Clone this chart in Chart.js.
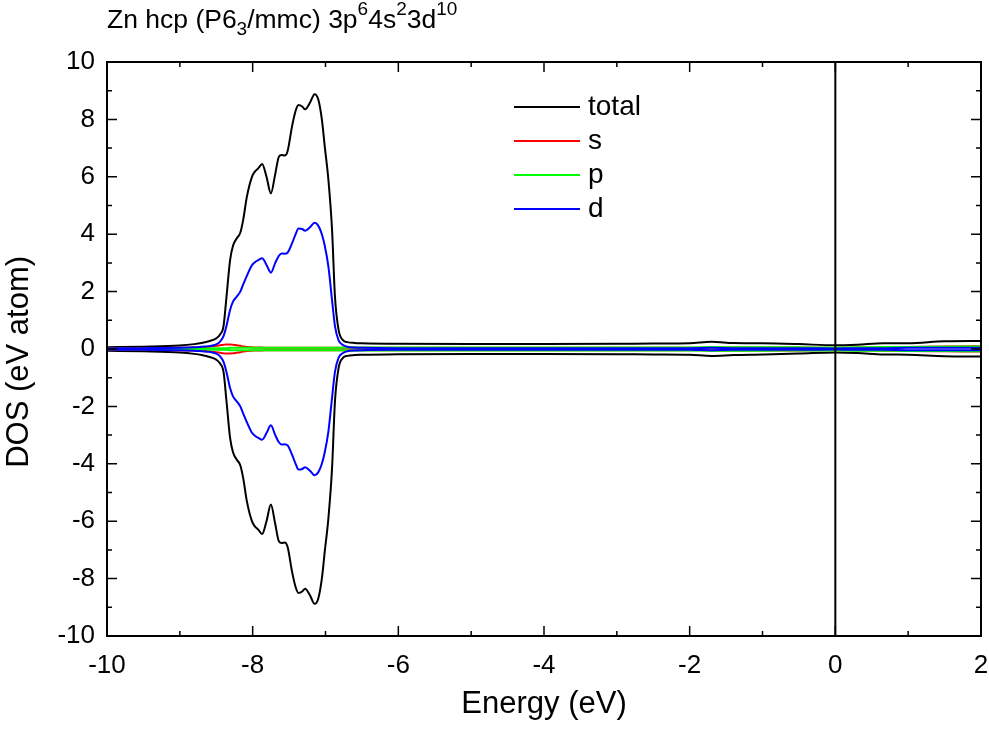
<!DOCTYPE html>
<html>
<head>
<meta charset="utf-8">
<script src="https://cdn.jsdelivr.net/npm/chart.js@4.4.1/dist/chart.umd.min.js"></script>
<style>
html, body { margin: 0; padding: 0; background: #fff; }
#wrap { width: 989px; height: 729px; }
</style>
</head>
<body>
<div id="wrap"><canvas id="dos"></canvas></div>
<script>
// energy grid (eV) shared by all curves
const energy = [
  -10, -9.5, -9, -8.8, -8.7, -8.6, -8.5, -8.45, -8.4, -8.36,
  -8.31, -8.27, -8.22, -8.17, -8.13, -8.08, -8.01, -7.97, -7.92, -7.87,
  -7.81, -7.75, -7.69, -7.64, -7.6, -7.56, -7.52, -7.46, -7.41, -7.37,
  -7.32, -7.28, -7.21, -7.15, -7.1, -7.05, -7.01, -6.96, -6.91, -6.87,
  -6.82, -6.76, -6.7, -6.6, -6.5, -6, -5, -4, -3, -2.5,
  -2, -1.7, -1.4, -1, -0.5, 0, 0.3, 0.66, 1, 1.5,
  2
];

// spin up
const totalUp = [
  0.06, 0.08, 0.12, 0.17, 0.21, 0.27, 0.37, 0.5, 0.8, 1.8,
  3.1, 3.6, 3.85, 4.05, 4.5, 5.3, 6.0, 6.18, 6.3, 6.45,
  6.0, 5.42, 6.1, 6.7, 6.76, 6.74, 6.9, 7.75, 8.3, 8.5,
  8.45, 8.35, 8.6, 8.88, 8.7, 8.0, 7.05, 5.89, 4.15, 1.82,
  0.66, 0.31, 0.24, 0.21, 0.2, 0.18, 0.17, 0.17, 0.18, 0.19,
  0.2, 0.25, 0.21, 0.2, 0.17, 0.13, 0.15, 0.2, 0.2, 0.27,
  0.28
];
const sUp = [
  0.03, 0.03, 0.04, 0.05, 0.06, 0.08, 0.11, 0.13, 0.15, 0.16,
  0.16, 0.15, 0.13, 0.11, 0.09, 0.07, 0.06, 0.05, 0.05, 0.05,
  0.04, 0.04, 0.04, 0.04, 0.04, 0.04, 0.04, 0.04, 0.04, 0.04,
  0.04, 0.04, 0.04, 0.04, 0.04, 0.04, 0.04, 0.04, 0.04, 0.04,
  0.04, 0.04, 0.04, 0.04, 0.04, 0.04, 0.04, 0.04, 0.04, 0.04,
  0.04, 0.05, 0.05, 0.05, 0.05, 0.04, 0.05, 0.06, 0.07, 0.09,
  0.1
];
const pUp = [
  0.01, 0.01, 0.02, 0.02, 0.02, 0.02, 0.03, 0.03, 0.03, 0.03,
  0.04, 0.04, 0.04, 0.04, 0.04, 0.04, 0.04, 0.04, 0.04, 0.04,
  0.04, 0.04, 0.04, 0.04, 0.04, 0.04, 0.04, 0.04, 0.04, 0.04,
  0.04, 0.04, 0.04, 0.04, 0.04, 0.04, 0.04, 0.04, 0.04, 0.04,
  0.04, 0.05, 0.05, 0.05, 0.05, 0.05, 0.05, 0.05, 0.05, 0.05,
  0.05, 0.07, 0.06, 0.06, 0.06, 0.05, 0.06, 0.07, 0.07, 0.08,
  0.09
];
const dUp = [
  0.02, 0.03, 0.04, 0.06, 0.08, 0.1, 0.16, 0.25, 0.45, 0.8,
  1.36, 1.65, 1.82, 2.0, 2.25, 2.55, 2.92, 3.02, 3.1, 3.16,
  2.93, 2.66, 3.0, 3.25, 3.33, 3.32, 3.36, 3.68, 4.0, 4.2,
  4.18, 4.12, 4.25, 4.4, 4.3, 4.0, 3.6, 2.87, 1.7, 0.8,
  0.3, 0.14, 0.08, 0.05, 0.04, 0.03, 0.03, 0.03, 0.03, 0.03,
  0.03, 0.04, 0.03, 0.03, 0.03, 0.02, 0.03, 0.03, 0.04, 0.04,
  0.04
];

// spin down
const totalDown = [
  -0.06, -0.08, -0.12, -0.17, -0.21, -0.27, -0.37, -0.5, -0.8, -1.8,
  -3.1, -3.6, -3.85, -4.05, -4.5, -5.3, -6.0, -6.18, -6.3, -6.45,
  -6.0, -5.42, -6.1, -6.7, -6.76, -6.74, -6.9, -7.75, -8.3, -8.5,
  -8.45, -8.35, -8.6, -8.88, -8.7, -8.0, -7.05, -5.89, -4.15, -1.82,
  -0.66, -0.31, -0.24, -0.21, -0.2, -0.18, -0.17, -0.17, -0.18, -0.19,
  -0.2, -0.24, -0.21, -0.19, -0.16, -0.12, -0.14, -0.19, -0.2, -0.25,
  -0.26
];
const sDown = [
  -0.03, -0.03, -0.04, -0.05, -0.06, -0.08, -0.11, -0.13, -0.15, -0.16,
  -0.16, -0.15, -0.13, -0.11, -0.09, -0.07, -0.06, -0.05, -0.05, -0.05,
  -0.04, -0.04, -0.04, -0.04, -0.04, -0.04, -0.04, -0.04, -0.04, -0.04,
  -0.04, -0.04, -0.04, -0.04, -0.04, -0.04, -0.04, -0.04, -0.04, -0.04,
  -0.04, -0.04, -0.04, -0.04, -0.04, -0.04, -0.04, -0.04, -0.04, -0.04,
  -0.04, -0.05, -0.05, -0.05, -0.05, -0.04, -0.05, -0.06, -0.07, -0.08,
  -0.09
];
const pDown = [
  -0.01, -0.01, -0.02, -0.02, -0.02, -0.02, -0.03, -0.03, -0.03, -0.03,
  -0.04, -0.04, -0.04, -0.04, -0.04, -0.04, -0.04, -0.04, -0.04, -0.04,
  -0.04, -0.04, -0.04, -0.04, -0.04, -0.04, -0.04, -0.04, -0.04, -0.04,
  -0.04, -0.04, -0.04, -0.04, -0.04, -0.04, -0.04, -0.04, -0.04, -0.04,
  -0.04, -0.05, -0.05, -0.05, -0.05, -0.05, -0.05, -0.05, -0.05, -0.05,
  -0.05, -0.06, -0.06, -0.06, -0.05, -0.05, -0.06, -0.06, -0.07, -0.07,
  -0.08
];
const dDown = [
  -0.02, -0.03, -0.04, -0.06, -0.08, -0.1, -0.16, -0.25, -0.45, -0.8,
  -1.36, -1.65, -1.82, -2.0, -2.25, -2.55, -2.92, -3.02, -3.1, -3.16,
  -2.93, -2.66, -3.0, -3.25, -3.33, -3.32, -3.36, -3.68, -4.0, -4.2,
  -4.18, -4.12, -4.25, -4.4, -4.3, -4.0, -3.6, -2.87, -1.7, -0.8,
  -0.3, -0.14, -0.08, -0.05, -0.04, -0.03, -0.03, -0.03, -0.03, -0.03,
  -0.03, -0.04, -0.03, -0.03, -0.03, -0.02, -0.03, -0.03, -0.04, -0.04,
  -0.04
];

// Fermi level marker
const fermiX = [0, 0];
const fermiY = [-10, 10];

const legendLabels = ['total', 's', 'p', 'd'];
const seriesColors = ['#000000', '#ff0000', '#00ff00', '#0000ff'];
const xTicks = [-10, -8, -6, -4, -2, 0, 2];
const yTicks = [-10, -8, -6, -4, -2, 0, 2, 4, 6, 8, 10];

const FONT = "'Liberation Sans', Arial, Helvetica, sans-serif";
Chart.defaults.font.family = FONT;
Chart.defaults.color = '#000';

const pts = (xs, ys) => xs.map((x, i) => ({ x: x, y: ys[i] }));

function curve(label, values, color, order) {
  return {
    label: label,
    data: pts(energy, values),
    borderColor: color,
    borderWidth: 2,
    pointRadius: 0,
    fill: false,
    cubicInterpolationMode: 'monotone',
    order: order
  };
}

const datasets = [
  curve('total', totalUp, seriesColors[0], 4),
  curve('total', totalDown, seriesColors[0], 4),
  curve('s', sUp, seriesColors[1], 3),
  curve('s', sDown, seriesColors[1], 3),
  curve('p', pUp, seriesColors[2], 2),
  curve('p', pDown, seriesColors[2], 2),
  curve('d', dUp, seriesColors[3], 1),
  curve('d', dDown, seriesColors[3], 1),
  {
    label: 'EF',
    data: pts(fermiX, fermiY),
    borderColor: '#000',
    borderWidth: 2,
    pointRadius: 0,
    order: 0
  }
];

// title with sub/superscripts
const titleParts = [
  { t: 'Zn hcp (P6', k: 0 },
  { t: '3', k: -1 },
  { t: '/mmc) 3p', k: 0 },
  { t: '6', k: 1 },
  { t: '4s', k: 0 },
  { t: '2', k: 1 },
  { t: '3d', k: 0 },
  { t: '10', k: 1 }
];

const framePlugin = {
  id: 'frame',
  afterDatasetsDraw(chart) {
    const { ctx, chartArea: a, scales } = chart;
    ctx.save();
    ctx.strokeStyle = '#000';
    ctx.lineWidth = 2;
    ctx.strokeRect(a.left, a.top, a.right - a.left, a.bottom - a.top);
    ctx.lineWidth = 1.5;
    ctx.beginPath();
    for (let v = -10; v <= 2; v += 1) {
      const px = scales.x.getPixelForValue(v);
      const len = v % 2 === 0 ? 10 : 5;
      ctx.moveTo(px, a.bottom); ctx.lineTo(px, a.bottom - len);
      ctx.moveTo(px, a.top); ctx.lineTo(px, a.top + len);
    }
    for (let v = -10; v <= 10; v += 1) {
      const py = scales.y.getPixelForValue(v);
      const len = v % 2 === 0 ? 10 : 5;
      ctx.moveTo(a.left, py); ctx.lineTo(a.left + len, py);
      ctx.moveTo(a.right, py); ctx.lineTo(a.right - len, py);
    }
    ctx.stroke();

    // legend
    ctx.lineWidth = 2;
    ctx.font = '28px ' + FONT;
    ctx.textBaseline = 'middle';
    ctx.fillStyle = '#000';
    legendLabels.forEach((lab, i) => {
      const y = 107 + i * 34;
      ctx.strokeStyle = seriesColors[i];
      ctx.beginPath();
      ctx.moveTo(514, y); ctx.lineTo(580, y);
      ctx.stroke();
      ctx.fillText(lab, 588, y);
    });

    // title
    let x = 107;
    const base = 28;
    ctx.textBaseline = 'alphabetic';
    titleParts.forEach(p => {
      const size = p.k === 0 ? 26.5 : 19;
      ctx.font = size + 'px ' + FONT;
      const y = p.k === 0 ? base : (p.k > 0 ? base - 13 : base + 7);
      ctx.fillText(p.t, x, y);
      x += ctx.measureText(p.t).width;
    });
    ctx.restore();
  }
};

new Chart(document.getElementById('dos'), {
  type: 'line',
  data: { datasets: datasets },
  options: {
    responsive: true,
    maintainAspectRatio: false,
    animation: false,
    devicePixelRatio: 1,
    layout: { padding: { top: 62, right: 8, left: 0, bottom: 0 } },
    plugins: {
      legend: { display: false },
      tooltip: { enabled: false }
    },
    scales: {
      x: {
        type: 'linear',
        min: -10,
        max: 2,
        grid: { display: false, drawTicks: false },
        border: { display: false },
        afterBuildTicks: s => { s.ticks = xTicks.map(v => ({ value: v })); },
        ticks: { font: { size: 26 }, color: '#000', padding: 14, maxRotation: 0 },
        title: { display: true, text: 'Energy (eV)', font: { size: 31 }, color: '#000', padding: { top: 0, bottom: 6 } },
        afterFit: s => { s.height = 93; s.paddingLeft = 0; s.paddingRight = 0; }
      },
      y: {
        type: 'linear',
        min: -10,
        max: 10,
        grid: { display: false, drawTicks: false },
        border: { display: false },
        afterBuildTicks: s => { s.ticks = yTicks.map(v => ({ value: v })); },
        ticks: { font: { size: 26 }, color: '#000', padding: 12 },
        title: { display: true, text: 'DOS (eV atom)   ', font: { size: 31 }, color: '#000', padding: { top: 1, bottom: 0 } },
        afterFit: s => { s.width = 107; s.paddingTop = 0; s.paddingBottom = 0; }
      }
    }
  },
  plugins: [framePlugin]
});
</script>
</body>
</html>
